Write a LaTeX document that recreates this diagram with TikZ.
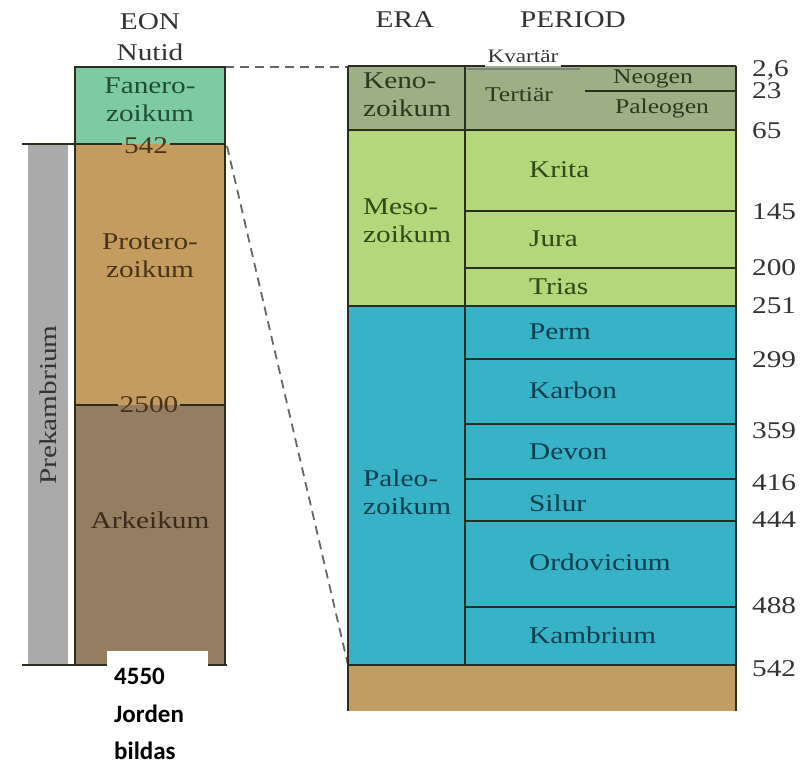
\documentclass[tikz,border=0pt]{standalone}
\usepackage{fontspec}
\setmainfont{Liberation Serif}[FakeStretch=1.22]
\newfontfamily\bornfont{Carlito}
\usetikzlibrary{positioning}
\usepackage{xcolor}
\definecolor{cfaner}{HTML}{7ECBA3}
\definecolor{cprot}{HTML}{C59C5F}
\definecolor{carkei}{HTML}{947D61}
\definecolor{cgrey}{HTML}{AAAAAA}
\definecolor{ckeno}{HTML}{9DAF84}
\definecolor{cmeso}{HTML}{B5D77B}
\definecolor{cpaleo}{HTML}{38B2C6}
\definecolor{cbase}{HTML}{C09D62}
\definecolor{cline}{HTML}{2A2E1E}
\definecolor{cdash}{HTML}{666666}
\definecolor{ctext}{HTML}{333333}
\definecolor{cfanertxt}{HTML}{1F4D35}
\definecolor{cprottxt}{HTML}{4A3418}
\definecolor{carktxt}{HTML}{3A2A1A}
\definecolor{ckenotxt}{HTML}{2B3A1E}
\definecolor{cmesotxt}{HTML}{2F4A14}
\definecolor{cpaleotxt}{HTML}{0D3F4F}
\tikzstyle{l1}=[line width=2pt, color=cline]
\tikzstyle{l2}=[line width=1.5pt, color=cline]
\tikzstyle{dash1}=[line width=1.8pt, color=cdash, dash pattern=on 9pt off 6pt]
\tikzstyle{lbl}=[font=\fontsize{24}{28}\selectfont, inner sep=2pt]
\tikzstyle{small}=[font=\fontsize{21}{25}\selectfont, inner sep=2pt]
\tikzstyle{era}=[lbl, anchor=west, align=left]
\tikzstyle{per}=[lbl, anchor=base west]
\tikzstyle{num}=[lbl, anchor=base west, color=ctext]
\tikzstyle{born}=[font=\bornfont\bfseries\fontsize{25}{30}\selectfont, anchor=base west, inner sep=0pt]

\begin{document}
\begin{tikzpicture}[x=1pt, y=-1pt]
    \useasboundingbox (0,0) rectangle (809,765);

    % left column: eons
    \fill[cfaner] (75,67) rectangle (225,144);
    \fill[cprot] (75,144) rectangle (225,405);
    \fill[carkei] (75,405) rectangle (225,665);
    \fill[cgrey] (28,144) rectangle (68,665);

    \node (eon) [lbl, color=ctext] at (150,22) {EON};
    \node (nutid) [lbl, color=ctext] at (150,52) {Nutid};
    \node (faner) [lbl, align=center, color=cfanertxt] at (150,100) {Fanero-\\zoikum};
    \node (n542l) [lbl, color=cprottxt] at (146,146) {542};
    \node (prot) [lbl, align=center, color=cprottxt] at (150,256) {Protero-\\zoikum};
    \node (n2500) [lbl, color=cprottxt] at (149,405) {2500};
    \node (arkei) [lbl, color=carktxt] at (150,520) {Arkeikum};
    \node (prek) [lbl, rotate=90, color=ctext] at (48,405) {Prekambrium};

    % dashed zoom lines
    \draw[dash1] (225,67) -- (348,67);
    \draw[dash1] (227,146) -- (348,665);

    \draw[l1] (75,67) rectangle (225,665);
    \draw[l1] (22,144) -- (n542l.west |- 0,144) (n542l.east |- 0,144) -- (225,144);
    \draw[l1] (75,405) -- (n2500.west |- 0,405) (n2500.east |- 0,405) -- (225,405);
    \draw[l1] (22,665) -- (227,665);

    \fill[white] (107,651) rectangle (208,765);
    \node (born1) [born] at (114,684) {4550};
    \node (born2) [born] at (114,722) {Jorden};
    \node (born3) [born] at (114,759) {bildas};

    % right column: eras and periods
    \fill[ckeno] (348,66) rectangle (736,130);
    \fill[cmeso] (348,130) rectangle (736,306);
    \fill[cpaleo] (348,306) rectangle (736,665);
    \fill[cbase] (348,665) rectangle (736,711);

    \node (era) [lbl, color=ctext] at (405,20) {ERA};
    \node (period) [lbl, color=ctext] at (573,20) {PERIOD};

    \node (kvartar) [small, font=\fontsize{19}{22}\selectfont, color=ctext] at (523,56) {Kvartär};
    \draw[l1] (348,66) -- (kvartar.west |- 0,66) (kvartar.east |- 0,66) -- (736,66);
    \draw[l2, color=gray] (467,69) -- (580,69);
    \draw[l2] (585,91) -- (736,91);
    \foreach \y in {211,268,359,424,479,521,607}
        \draw[l2] (465,\y) -- (736,\y);
    \draw[l1] (348,130) -- (736,130) (348,306) -- (736,306) (348,665) -- (736,665);
    \draw[l1] (348,66) -- (348,711) (736,66) -- (736,711) (465,66) -- (465,665);

    \node (keno) [era, color=ckenotxt] at (361,95) {Keno-\\zoikum};
    \node (meso) [era, color=cmesotxt] at (361,221) {Meso-\\zoikum};
    \node (paleo) [era, color=cpaleotxt] at (361,492) {Paleo-\\zoikum};

    \node (tert) [small, color=ckenotxt] at (519,95) {Tertiär};
    \node (neog) [small, color=ckenotxt] at (653,79) {Neogen};
    \node (paleog) [small, color=ckenotxt] at (662,108) {Paleogen};

    \foreach \p/\y in {Krita/178, Jura/246, Trias/294}
        \node (p\y) [per, color=cmesotxt] at (527,\y) {\p};
    \foreach \p/\y in {Perm/339, Karbon/398, Devon/459, Silur/511, Ordovicium/570, Kambrium/643}
        \node (p\y) [per, color=cpaleotxt] at (527,\y) {\p};

    % ages in million years
    \node (a26) [num] at (750,77) {2,6};
    \foreach \a/\y in {23/99, 65/139, 145/219, 200/275, 251/313, 299/367, 359/438, 416/490, 444/527, 488/613, 542/676}
        \node (a\a) [num] at (750,\y) {\a};
\end{tikzpicture}
\end{document}
